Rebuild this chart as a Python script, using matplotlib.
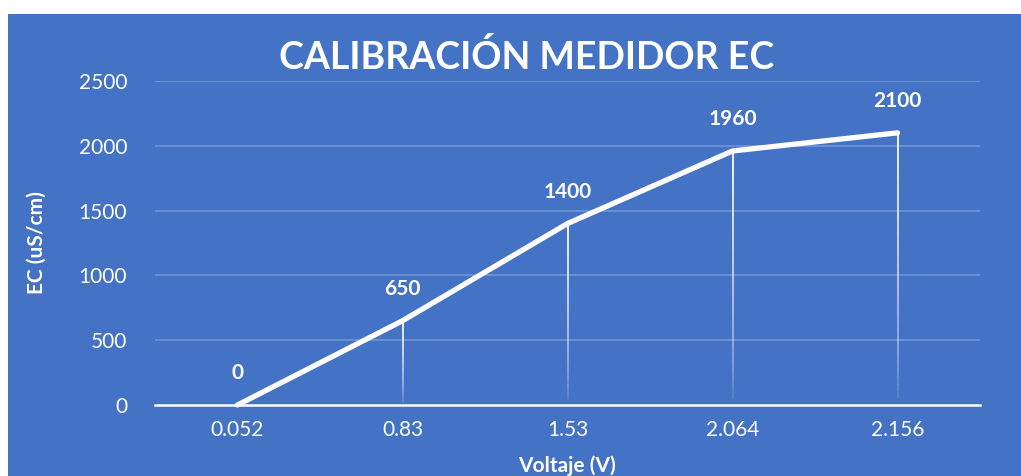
import matplotlib
matplotlib.use("Agg")
import matplotlib.pyplot as plt
import numpy as np
from matplotlib.collections import LineCollection
from matplotlib.patches import Rectangle

categories = ["0.052", "0.83", "1.53", "2.064", "2.156"]
ec_values = [0, 650, 1400, 1960, 2100]
y_ticks = [0, 500, 1000, 1500, 2000, 2500]

BLUE = "#4472C4"
FONT = "Lato"

fig = plt.figure(figsize=(10.21, 4.76), dpi=100, facecolor="white")
W, H = 1021, 476
fig.patches.append(Rectangle((8 / W, 0), 1 - 8 / W, 1 - 14 / H, transform=fig.transFigure,
                             facecolor=BLUE, edgecolor="none", zorder=-5))

ax = fig.add_axes([155 / W, 1 - 405 / H, (980 - 155) / W, (405 - 81) / H])
ax.set_zorder(2)
ax.set_facecolor("none")
x = np.arange(len(categories))
ax.set_xlim(-0.5, len(categories) - 0.5)
ax.set_ylim(0, 2500)

ax.set_yticks(y_ticks)
ax.set_yticklabels([str(v) for v in y_ticks])
ax.set_xticks(x)
ax.set_xticklabels(categories)
ax.tick_params(axis="both", length=0, colors="white", labelsize=15)
ax.tick_params(axis="y", pad=20)
ax.tick_params(axis="x", pad=11)
for lbl in ax.get_xticklabels() + ax.get_yticklabels():
    lbl.set_fontfamily(FONT)

for s in ["top", "right", "left"]:
    ax.spines[s].set_visible(False)
ax.spines["bottom"].set_color("white")
ax.spines["bottom"].set_linewidth(1.8)
ax.spines["bottom"].set_zorder(3)

for v in y_ticks[1:]:
    ax.axhline(v, color="white", alpha=0.25, lw=1.2, zorder=1)

# drop lines with fade
n = 40
for xi, yi in zip(x, ec_values):
    if yi <= 0:
        continue
    ys = np.linspace(yi, 0, n + 1)
    segs = [[(xi, ys[k]), (xi, ys[k + 1])] for k in range(n)]
    alphas = np.clip(np.linspace(1.0, 0.0, n) ** 0.6, 0, 1)
    cols = [(1, 1, 1, a) for a in alphas]
    ax.add_collection(LineCollection(segs, colors=cols, linewidths=1.3, zorder=2))

ax.plot(x, ec_values, color="white", lw=3.8, solid_capstyle="round",
        solid_joinstyle="round", zorder=4, clip_on=False)

for xi, yi in zip(x, ec_values):
    ax.annotate(str(yi), (xi, yi), xytext=(0, 23), textcoords="offset points",
                ha="center", va="center", color="white", fontsize=15,
                fontweight="bold", fontfamily=FONT)

fig.text(527 / W, 1 - 57 / H, "CALIBRACIÓN MEDIDOR EC", ha="center", va="center",
         color="white", fontsize=27, fontweight="bold", fontfamily=FONT)
fig.text(37 / W, 1 - 243 / H, "EC (uS/cm)", ha="center", va="center", rotation=90,
         color="white", fontsize=15, fontweight="bold", fontfamily=FONT)
fig.text(567 / W, 1 - 466 / H, "Voltaje (V)", ha="center", va="center",
         color="white", fontsize=15, fontweight="bold", fontfamily=FONT)

fig.savefig("out.png", dpi=100, facecolor="white")
